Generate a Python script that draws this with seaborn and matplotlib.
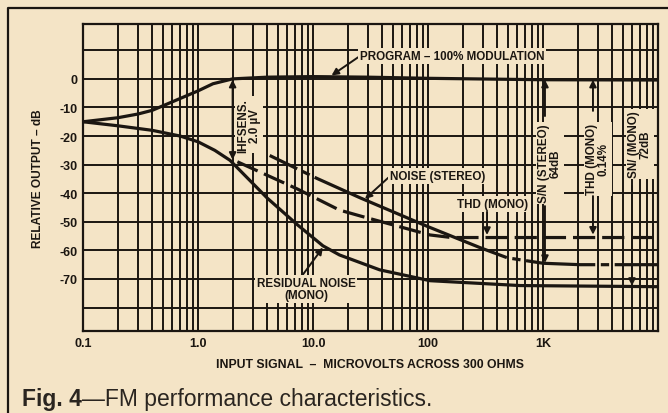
import numpy as np
import pandas as pd
import matplotlib.pyplot as plt
import matplotlib.lines as mlines
from matplotlib.ticker import LogLocator, NullFormatter
import seaborn as sns

paper = "#f4e4c6"
ink = "#1b1611"

sns.set_theme(style="white")
plt.rcParams["lines.scale_dashes"] = False
plt.rcParams["font.family"] = ["Liberation Sans", "DejaVu Sans"]
narrow = ["Liberation Sans Narrow", "Liberation Sans", "DejaVu Sans"]

# values: input in microvolts, output in dB
program_uv = [0.1, 0.2, 0.3, 0.4, 0.6, 1.0, 1.35, 2.0, 4.0, 10, 30, 100, 1000, 10000]
program_db = [-15, -13.6, -12.3, -11, -8, -4.2, -1.7, 0, 0.6, 0.8, 0.6, 0.2, -0.3, -0.4]

residual_uv = [0.1, 0.2, 0.4, 0.7, 1.0, 1.4, 1.9, 4.0, 7.3, 12.2, 17, 38, 104, 630, 10000]
residual_db = [-15, -16.4, -18, -20, -22, -25, -28.5, -41.7, -51, -58.4, -61.6, -66.8, -70.6, -72.3, -72.7]

thd_uv = [2.2, 7.3, 17, 26, 104, 160, 10000]
thd_db = [-29, -38.5, -45.9, -48, -54.6, -55.5, -55.5]

stereo_uv = [4.2, 10.8, 26, 100, 282, 490, 1000, 2100, 10000]
stereo_db = [-26.8, -34.8, -41.7, -51.7, -59, -62.6, -64.5, -65, -65]

xticks = [0.1, 1, 10, 100, 1000]
xtick_labels = ["0.1", "1.0", "10.0", "100", "1K"]
yticks = list(range(-80, 20, 10))
ytick_labels = ["", "-70", "-60", "-50", "-40", "-30", "-20", "-10", "0", ""]

fig = plt.figure(figsize=(6.68, 4.14), dpi=100, facecolor=paper)
ax = fig.add_axes([83 / 668, 1 - 332 / 414, 575 / 668, 307 / 414])
ax.set_facecolor(paper)

sns.lineplot(x=program_uv, y=program_db, ax=ax, color=ink, lw=2.3)
sns.lineplot(x=residual_uv, y=residual_db, ax=ax, color=ink, lw=2.3)
sns.lineplot(x=thd_uv, y=thd_db, ax=ax, color=ink, lw=2.3, linestyle=(0, (16, 5)))
sns.lineplot(x=stereo_uv, y=stereo_db, ax=ax, color=ink, lw=2.3,
             linestyle=(0, (22, 4, 6, 4, 150, 4, 6, 4, 50, 4, 6, 4, 200)))

ax.set_xscale("log")
ax.set_xlim(0.1, 10000)
ax.set_ylim(-88.2, 19.2)
ax.set_xticks(xticks, labels=xtick_labels)
ax.xaxis.set_minor_locator(LogLocator(base=10, subs=np.arange(2, 10), numticks=100))
ax.xaxis.set_minor_formatter(NullFormatter())
ax.set_yticks(yticks, labels=ytick_labels)
ax.grid(which="both", axis="x", color=ink, lw=1.4)
ax.grid(which="major", axis="y", color=ink, lw=1.4)
ax.set_axisbelow(True)
for s in ax.spines.values():
    s.set_color(ink)
    s.set_linewidth(1.6)
ax.tick_params(which="both", length=0, colors=ink)
ax.tick_params(axis="x", pad=4)
ax.tick_params(axis="y", pad=4)
for t in ax.get_xticklabels() + ax.get_yticklabels():
    t.set_family(narrow)
    t.set_fontweight("bold")
    t.set_fontsize(9)

ax.set_xlabel("INPUT SIGNAL  –  MICROVOLTS ACROSS 300 OHMS", fontsize=8.8,
              fontweight="bold", color=ink, labelpad=7)
ax.set_ylabel("RELATIVE OUTPUT – dB", fontsize=8.6, fontweight="bold", color=ink, labelpad=11)

box = dict(boxstyle="square,pad=0.15", fc=paper, ec="none")
arrow = dict(arrowstyle="-|>", color=ink, lw=1.4, mutation_scale=10, shrinkA=0, shrinkB=0)
lab = dict(fontsize=8.4, fontweight="bold", color=ink, bbox=box)

ax.annotate("PROGRAM – 100% MODULATION", xy=(14.5, 1.2), xytext=(25.6, 8),
            ha="left", va="center", arrowprops=dict(arrow, relpos=(0, 0.5)), **lab)
ax.annotate("NOISE (STEREO)", xy=(28.3, -42), xytext=(46.8, -34),
            ha="left", va="center", arrowprops=dict(arrow, relpos=(0, 0.5)), **lab)
ax.text(367, -43.7, "THD (MONO)", ha="center", va="center", **lab)
ax.annotate("", xy=(326, -54.6), xytext=(326, -46.5), arrowprops=arrow)
ax.annotate("RESIDUAL NOISE\n(MONO)", xy=(12.2, -59), xytext=(8.7, -73.5),
            ha="center", va="center", linespacing=1.0,
            arrowprops=dict(arrow, relpos=(0.45, 1)), **lab)

ax.text(2.77, -16, "IHFSENS.\n2.0 µV", rotation=90, ha="center", va="center",
        linespacing=1.0, **lab)
ax.annotate("", xy=(2.0, -0.3), xytext=(2.0, -28.3), arrowprops=dict(arrow, arrowstyle="<|-|>"))

ax.text(1150, -29.4, "S/N (STEREO)\n64dB", rotation=90, ha="center", va="center",
        linespacing=1.0, **lab)
ax.annotate("", xy=(1040, -0.3), xytext=(1040, -13), arrowprops=arrow)
ax.annotate("", xy=(1040, -64.4), xytext=(1040, -44.5), arrowprops=arrow)

ax.text(3000, -28, "THD (MONO)\n0.14%", rotation=90, ha="center", va="center",
        linespacing=1.0, **lab)
ax.annotate("", xy=(2720, -0.3), xytext=(2720, -11.2), arrowprops=arrow)
ax.annotate("", xy=(2720, -54.5), xytext=(2720, -41), arrowprops=arrow)

ax.text(6970, -22.7, "SN/ (MONO)\n72dB", rotation=90, ha="center", va="center",
        linespacing=1.0, **lab)
ax.annotate("", xy=(5940, -72.4), xytext=(5940, -37.5), arrowprops=arrow)

# outer frame of the magazine figure (left and top only)
fig.add_artist(mlines.Line2D([8 / 668, 8 / 668, 1], [0, 1 - 9 / 414, 1 - 9 / 414],
                             transform=fig.transFigure, color=ink, lw=1.6))

cap = fig.text(22 / 668, 1 - 400 / 414, "Fig. 4", fontsize=16.5, fontweight="bold",
               color="#2a2520", va="center", ha="left")
plt.annotate("—FM performance characteristics.", xy=(1, 0.5), xycoords=cap,
             fontsize=16.5, color="#2a2520", va="center", ha="left")

fig.savefig("out.png", dpi=100, facecolor=paper)
